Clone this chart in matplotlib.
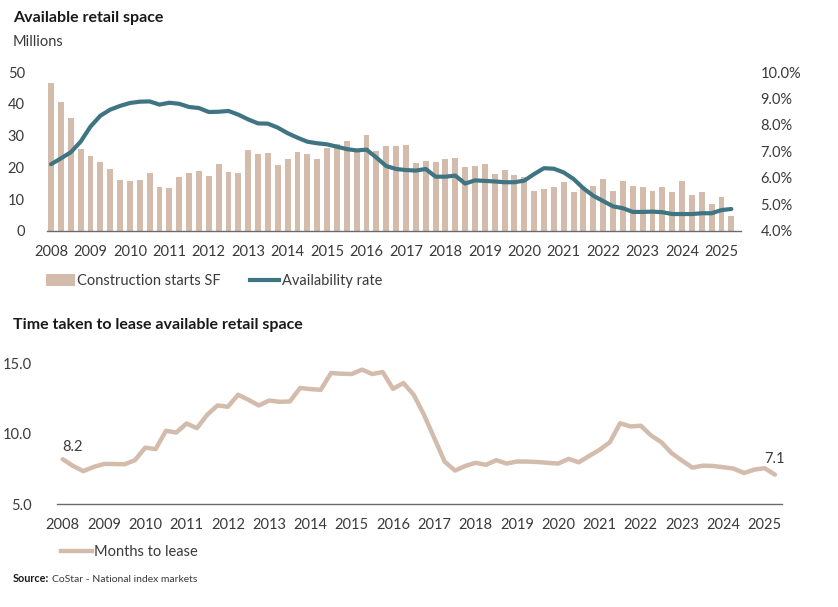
import matplotlib
matplotlib.use("Agg")
import matplotlib.pyplot as plt
from matplotlib.patches import Patch
from matplotlib.lines import Line2D
import numpy as np

plt.rcParams['font.family'] = ['Lato', 'DejaVu Sans']

# ---------------- data ----------------
years = [str(y) for y in range(2008, 2026)]
quarters = [f"{y}Q{q}" for y in range(2008, 2026) for q in range(1, 5)][:70]

construction_starts = [
    46.4, 40.7, 35.6, 25.7, 23.6, 21.7, 19.6, 16.1, 15.7, 15.9,
    18.3, 13.8, 13.4, 16.9, 18.1, 18.9, 17.4, 21.1, 18.7, 18.1,
    25.6, 24.2, 24.6, 20.8, 22.7, 24.8, 24.2, 22.6, 26.0, 27.4,
    28.3, 24.9, 30.2, 25.3, 26.6, 26.8, 26.9, 21.4, 22.1, 21.7,
    22.7, 22.8, 20.1, 20.3, 21.2, 17.8, 19.1, 17.6, 16.9, 12.5,
    13.1, 13.8, 15.4, 12.2, 13.8, 14.2, 16.4, 12.6, 15.6, 14.2,
    13.9, 12.5, 13.9, 12.3, 15.7, 11.2, 12.3, 8.5, 10.7, 4.7,
]

availability_rate = [
    6.52, 6.74, 6.97, 7.37, 7.94, 8.35, 8.58, 8.72, 8.83, 8.88,
    8.89, 8.77, 8.84, 8.80, 8.68, 8.64, 8.49, 8.50, 8.53, 8.39,
    8.21, 8.06, 8.05, 7.90, 7.69, 7.52, 7.37, 7.31, 7.27, 7.18,
    7.09, 7.04, 7.07, 6.77, 6.45, 6.34, 6.30, 6.28, 6.34, 6.05,
    6.05, 6.09, 5.79, 5.91, 5.89, 5.87, 5.84, 5.84, 5.90, 6.15,
    6.37, 6.35, 6.21, 5.96, 5.61, 5.33, 5.13, 4.93, 4.86, 4.72,
    4.72, 4.73, 4.71, 4.64, 4.64, 4.64, 4.67, 4.67, 4.79, 4.83,
]

months_to_lease = [
    8.20, 7.72, 7.35, 7.65, 7.86, 7.86, 7.84, 8.13, 9.02, 8.91,
    10.21, 10.09, 10.73, 10.40, 11.35, 12.01, 11.92, 12.77, 12.41, 12.01,
    12.36, 12.27, 12.29, 13.25, 13.17, 13.12, 14.31, 14.26, 14.24, 14.55,
    14.24, 14.38, 13.19, 13.60, 12.77, 11.35, 9.69, 8.03, 7.39, 7.72,
    7.94, 7.80, 8.13, 7.89, 8.03, 8.03, 8.00, 7.94, 7.89, 8.22,
    7.98, 8.43, 8.86, 9.40, 10.75, 10.52, 10.57, 9.88, 9.40, 8.62,
    8.10, 7.60, 7.74, 7.72, 7.63, 7.53, 7.22, 7.46, 7.56, 7.10,
]

left_ticks = [0, 10, 20, 30, 40, 50]
right_ticks = [4.0, 5.0, 6.0, 7.0, 8.0, 9.0, 10.0]
bottom_ticks = [5.0, 10.0, 15.0]

# ---------------- style ----------------
BAR_C = "#d3bcab"
LINE_C = "#3f7482"
TXT_C = "#3a3a3a"
AX_C = "#6b6b6b"

W, H = 838, 607
fig = plt.figure(figsize=(W / 100, H / 100), dpi=100)
fig.patch.set_facecolor("white")


def px_axes(x0, y0, x1, y1):
    return fig.add_axes([x0 / W, 1 - y1 / H, (x1 - x0) / W, (y1 - y0) / H])


x = np.arange(len(quarters))
year_pos = np.arange(0, len(quarters), 4)

# ---------------- top chart ----------------
ax = px_axes(47, 72, 741, 231)
ax.bar(x, construction_starts, width=0.6, color=BAR_C, zorder=2)
ax.set_xlim(-0.41, 69.98)
ax.set_ylim(0, 50)
ax.set_yticks(left_ticks)
ax.set_yticklabels([str(t) for t in left_ticks])
ax.set_xticks(year_pos)
ax.set_xticklabels(years)
for s in ["top", "right", "left"]:
    ax.spines[s].set_visible(False)
ax.spines["bottom"].set_color(AX_C)
ax.spines["bottom"].set_linewidth(1.0)
ax.tick_params(axis="y", length=0, pad=16, labelsize=10.5, labelcolor=TXT_C)
ax.tick_params(axis="x", length=0, pad=10, labelsize=10.5, labelcolor=TXT_C)

ax2 = ax.twinx()
ax2.plot(x, availability_rate, color=LINE_C, lw=3.0, solid_capstyle="round", zorder=3)
ax2.set_ylim(4.0, 10.0)
ax2.set_yticks(right_ticks)
ax2.set_yticklabels([f"{t:.1f}%" for t in right_ticks])
for s in ["top", "right", "left", "bottom"]:
    ax2.spines[s].set_visible(False)
ax2.tick_params(axis="y", length=0, pad=14, labelsize=10.5, labelcolor=TXT_C)

fig.text(13 / W, 1 - 18 / H, "Available retail space", fontsize=11.5, fontweight="bold",
         color="#1a1a1a", va="center", ha="left")
fig.text(13 / W, 1 - 42 / H, "Millions", fontsize=10.5, color=TXT_C, va="center", ha="left")

handles_top = [
    Patch(facecolor=BAR_C, edgecolor="none", label="Construction starts SF"),
    Line2D([0], [0], color=LINE_C, lw=3, label="Availability rate"),
]
fig.legend(handles=handles_top, loc="center left", bbox_to_anchor=(46 / W, 1 - 281 / H),
           ncol=2, frameon=False, fontsize=10.5, handlelength=2.0, handleheight=0.9,
           handletextpad=0.15, columnspacing=2.0, labelcolor=TXT_C, borderaxespad=0,
           borderpad=0)

# ---------------- bottom chart ----------------
bx = px_axes(57, 363.3, 781.7, 504.3)
bx.plot(x, months_to_lease, color=BAR_C, lw=3.2, solid_capstyle="round", clip_on=False)
bx.set_xlim(-0.55, 69.65)
bx.set_ylim(5.0, 15.0)
bx.set_yticks(bottom_ticks)
bx.set_yticklabels([f"{t:.1f}" for t in bottom_ticks])
bx.set_xticks(year_pos)
bx.set_xticklabels(years)
for s in ["top", "right", "left"]:
    bx.spines[s].set_visible(False)
bx.spines["bottom"].set_color(AX_C)
bx.spines["bottom"].set_linewidth(1.0)
bx.tick_params(axis="y", length=0, pad=18, labelsize=10.5, labelcolor=TXT_C)
bx.tick_params(axis="x", length=0, pad=10, labelsize=10.5, labelcolor=TXT_C)

bx.annotate(f"{months_to_lease[0]:.1f}", xy=(x[0], months_to_lease[0]), xytext=(0, 4),
            textcoords="offset points", ha="left", va="bottom", fontsize=10.5, color=TXT_C)
bx.annotate(f"{months_to_lease[-1]:.1f}", xy=(x[-1], months_to_lease[-1]), xytext=(0, 6),
            textcoords="offset points", ha="center", va="bottom", fontsize=10.5, color=TXT_C)

fig.text(13 / W, 1 - 325 / H, "Time taken to lease available retail space", fontsize=11.5,
         fontweight="bold", color="#1a1a1a", va="center", ha="left")

handles_bot = [Line2D([0], [0], color=BAR_C, lw=3.2, label="Months to lease")]
fig.legend(handles=handles_bot, loc="center left", bbox_to_anchor=(61 / W, 1 - 552 / H),
           frameon=False, fontsize=10.5, handlelength=2.1, handletextpad=0.15,
           labelcolor=TXT_C, borderaxespad=0, borderpad=0)

fig.text(13 / W, 1 - 579 / H, "Source:", fontsize=7.8, fontweight="bold", color="#1a1a1a",
         va="center", ha="left")
fig.text(52 / W, 1 - 579 / H, "CoStar - National index markets", fontsize=7.5, color=TXT_C,
         va="center", ha="left")

fig.savefig("out.png", dpi=100, facecolor="white")
